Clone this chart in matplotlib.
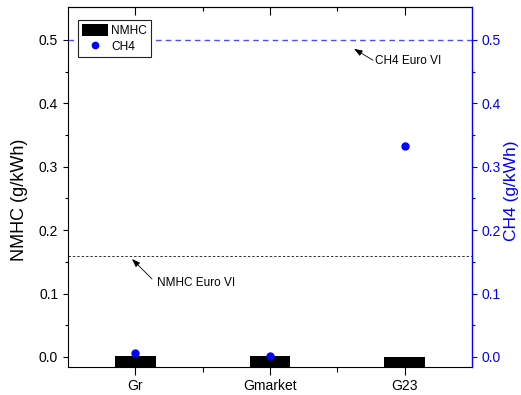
#bar + scatter plot of NMHC and CH4 emissions against the Euro VI limits
import matplotlib
matplotlib.use('Agg')
import matplotlib.pyplot as plt
import matplotlib.lines as mlines
import numpy as np

plt.rcParams['font.family'] = ['Liberation Sans', 'DejaVu Sans']

#emission results per fuel (g/kWh)
samples = ['Gr', 'Gmarket', 'G23']
nmhc = [0.0016, 0.002, 0.0]
ch4 = [0.0058, 0.002, 0.333]
#Euro VI limits (g/kWh)
nmhc_limit = 0.16
ch4_limit = 0.5
yticks = [0.0, 0.1, 0.2, 0.3, 0.4, 0.5]

blue = '#0000ff'
ylo, yhi = -0.0158, 0.552

fig = plt.figure(figsize=(5.21, 3.95), dpi=100)
ax = fig.add_axes([0.1305, 0.0709, 0.7755, 0.9114])
ax2 = ax.twinx()

xpos = np.arange(1, len(samples)+1)
#bars start at the bottom of the axis, Origin style
bars = ax.bar(xpos, np.array(nmhc)-ylo, bottom=ylo, width=0.3, color='k', label='NMHC')
ax.axhline(nmhc_limit, color='#333333', linewidth=0.7, dashes=(2.5, 2))
ax.set_xlim(0.5, 3.5)
ax.set_ylim(ylo, yhi)
ax.set_xticks(xpos)
ax.set_xticklabels(samples)
ax.set_xticks([1.5, 2.5], minor=True)
ax.set_yticks(yticks)
ax.set_yticklabels(['%.1f' % t for t in yticks])
ax.set_yticks([0.05, 0.15, 0.25, 0.35, 0.45], minor=True)
ax.tick_params(axis='x', which='major', length=5.8, width=0.8, pad=3, labelsize=10)
ax.tick_params(axis='x', which='minor', length=3.6, width=0.8)
ax.tick_params(axis='y', which='major', length=3.6, width=0.8, pad=3.5, labelsize=10)
ax.tick_params(axis='y', which='minor', length=2.2, width=0.8)
ax.spines['right'].set_visible(False)
for s in ['left', 'top', 'bottom']:
	ax.spines[s].set_linewidth(0.8)
ax.set_ylabel('NMHC (g/kWh)', fontsize=13)
ax.yaxis.set_label_coords(-0.099, 0.464)

#top axis gets inward ticks only
top = ax.secondary_xaxis('top')
top.set_xticks(xpos)
top.set_xticks([1.5, 2.5], minor=True)
top.tick_params(which='major', direction='in', length=5.8, width=0.8, labeltop=False)
top.tick_params(which='minor', direction='in', length=3, width=0.8)
top.spines['top'].set_linewidth(0.8)

#CH4 on the right hand axis
pts, = ax2.plot(xpos, ch4, 'o', color=blue, markersize=5, label='CH4')
ax2.axhline(ch4_limit, color='#4d4dff', linewidth=1.0, dashes=(4, 3))
ax2.set_ylim(ylo, yhi)
ax2.set_yticks(yticks)
ax2.set_yticklabels(['%.1f' % t for t in yticks])
ax2.set_yticks([0.05, 0.15, 0.25, 0.35, 0.45], minor=True)
ax2.tick_params(axis='y', which='major', colors=blue, length=3.6, width=0.8, pad=3.5, labelsize=10)
ax2.tick_params(axis='y', which='minor', colors=blue, length=2.2, width=0.8)
for s in ['left', 'top', 'bottom']:
	ax2.spines[s].set_visible(False)
ax2.spines['right'].set_color(blue)
ax2.spines['right'].set_linewidth(1.0)
ax2.set_ylabel('CH4 (g/kWh)', fontsize=12.5, color=blue)
ax2.yaxis.set_label_coords(1.079, 0.489)

#limit labels with arrows
ax.annotate('', xy=(0.975, 0.1546), xytext=(1.124, 0.123),
	arrowprops=dict(arrowstyle='-|>,head_length=0.5,head_width=0.18', color='k', lw=0.6,
		shrinkA=0, shrinkB=0))
ax.text(1.161, 0.1167, 'NMHC Euro VI', fontsize=8.5, va='center', ha='left')
ax2.annotate('', xy=(2.624, 0.486), xytext=(2.765, 0.468),
	arrowprops=dict(arrowstyle='-|>,head_length=0.5,head_width=0.18', color='k', lw=0.6,
		shrinkA=0, shrinkB=0))
ax2.text(2.78, 0.467, 'CH4 Euro VI', fontsize=8.5, va='center', ha='left')

legendicons = [bars, mlines.Line2D([], [], color=blue, marker='o', markersize=4.5, linestyle='None')]
leg = ax2.legend(legendicons, ['NMHC', 'CH4'], loc='upper left', bbox_to_anchor=(0.0248, 0.964),
	borderaxespad=0, fontsize=8.6, handlelength=2.25, handleheight=1.25, handletextpad=0.25,
	labelspacing=0.25, borderpad=0.3, fancybox=False, framealpha=1, edgecolor='#222222')
leg.get_frame().set_linewidth(0.8)

plt.savefig('out.png', dpi=100)
